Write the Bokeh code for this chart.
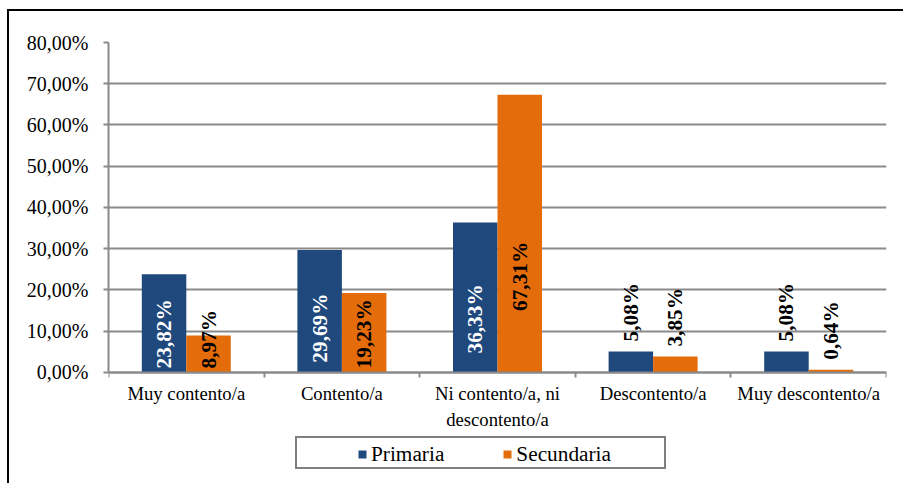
import numpy as np
from bokeh.plotting import figure
from bokeh.models import (ColumnDataSource, Range1d, FixedTicker, Legend, LegendItem)
from bokeh.core.properties import value
from bokeh.embed import file_html
from bokeh.resources import INLINE

# ---- data ----
categories = ["Muy contento/a", "Contento/a", "Ni contento/a, ni\ndescontento/a",
              "Descontento/a", "Muy descontento/a"]
primaria = [23.82, 29.69, 36.33, 5.08, 5.08]
secundaria = [8.97, 19.23, 67.31, 3.85, 0.64]
series_names = ["Primaria", "Secundaria"]
y_ticks = [0, 10, 20, 30, 40, 50, 60, 70, 80]
y_tick_labels = ["0,00%", "10,00%", "20,00%", "30,00%", "40,00%",
                 "50,00%", "60,00%", "70,00%", "80,00%"]

# ---- style ----
BLUE = "#1F497D"
ORANGE = "#E46C0A"
GRID = "#8A8A8A"
FONT = "Liberation Serif"
BAR_W = 0.286
Y_LOW = -25  # room below the axis (inside the frame) for labels and legend

p = figure(width=896, height=474, output_backend="svg", toolbar_location=None,
           x_range=Range1d(0, len(categories)), y_range=Range1d(Y_LOW, 80),
           styles={"margin-left": "7px", "margin-top": "9px",
                   "border-top": "2px solid black", "border-left": "2px solid black"})
p.min_border_left = 99
p.min_border_right = 19
p.min_border_top = 31
p.min_border_bottom = 10
p.outline_line_color = None
p.background_fill_color = "white"
p.border_fill_color = "white"

centers = np.arange(len(categories)) + 0.5
fmt = lambda v: ("%.2f" % v).replace(".", ",") + "%"

src_p = ColumnDataSource(dict(x=centers - BAR_W / 2, top=primaria))
src_s = ColumnDataSource(dict(x=centers + BAR_W / 2, top=secundaria))
r_p = p.vbar(x="x", top="top", width=BAR_W, source=src_p, fill_color=BLUE, line_color=None)
r_s = p.vbar(x="x", top="top", width=BAR_W, source=src_s, fill_color=ORANGE, line_color=None)

# ---- data labels ----
ins_x, ins_y, ins_t, ins_c = [], [], [], []
out_x, out_y, out_t = [], [], []
for xs, vals, inside_col in ((centers - BAR_W / 2, primaria, "white"),
                             (centers + BAR_W / 2, secundaria, "black")):
    for xv, v in zip(xs, vals):
        if v >= 8:
            ins_x.append(xv); ins_y.append(max(v / 3 - 8.5, 0)); ins_t.append(fmt(v)); ins_c.append(inside_col)
        else:
            out_x.append(xv); out_y.append(v); out_t.append(fmt(v))

p.text(x=ins_x, y=ins_y, text=ins_t, text_color=ins_c, angle=np.pi / 2,
       text_align="left", text_baseline="middle", y_offset=-4,
       text_font=value(FONT), text_font_style="bold", text_font_size="21.3px")
p.text(x=out_x, y=out_y, text=out_t, text_color="black", angle=np.pi / 2,
       text_align="left", text_baseline="middle", y_offset=-10,
       text_font=value(FONT), text_font_style="bold", text_font_size="21.3px")

# ---- axes ----
p.ygrid.ticker = FixedTicker(ticks=y_ticks)
p.ygrid.grid_line_color = GRID
p.ygrid.grid_line_width = 2
p.xgrid.grid_line_color = None

ya = p.yaxis[0]
ya.ticker = FixedTicker(ticks=y_ticks)
ya.bounds = (0, 80)
ya.major_label_overrides = {t: l for t, l in zip(y_ticks, y_tick_labels)}
ya.axis_line_color = GRID
ya.axis_line_width = 2
ya.major_tick_line_color = GRID
ya.major_tick_line_width = 2
ya.major_tick_out = 5
ya.major_tick_in = 0
ya.minor_tick_line_color = None
ya.major_label_standoff = 15
ya.major_label_text_font = FONT
ya.major_label_text_font_size = "20px"
ya.major_label_text_color = "black"

xa = p.xaxis[0]
xa.fixed_location = 0
xa.ticker = FixedTicker(ticks=list(centers), minor_ticks=list(range(len(categories) + 1)))
xa.major_label_overrides = {float(c): lab for c, lab in zip(centers, categories)}
xa.axis_line_color = GRID
xa.axis_line_width = 2
xa.major_tick_line_color = None
xa.major_tick_out = 0
xa.major_tick_in = 0
xa.minor_tick_line_color = GRID
xa.minor_tick_line_width = 2
xa.minor_tick_out = 5
xa.minor_tick_in = 0
xa.major_label_standoff = 6
xa.major_label_text_font = FONT
xa.major_label_text_font_size = "18.7px"
xa.major_label_text_color = "black"

# ---- legend: outer box + items ----
dummy = p.vbar(x=[], top=[], width=0, fill_alpha=0, line_alpha=0)
box = Legend(items=[LegendItem(label="\u00a0", renderers=[dummy])],
             location=(187, 6), padding=0, margin=0, spacing=0,
             glyph_width=1, glyph_height=29, label_standoff=0, label_width=366,
             label_height=29, label_text_font_size="2px",
             border_line_color="black", border_line_width=2,
             background_fill_color="white", background_fill_alpha=1)
p.add_layout(box, "center")

items = Legend(items=[LegendItem(label=series_names[0], renderers=[r_p]),
                      LegendItem(label=series_names[1], renderers=[r_s])],
               location=(249, 7), orientation="horizontal", padding=0, margin=0,
               spacing=58, glyph_width=10, glyph_height=10, label_standoff=4,
               label_height=28, label_text_font=FONT, label_text_font_size="21.3px",
               label_text_color="black", border_line_color=None,
               background_fill_alpha=0)
p.add_layout(items, "center")

open("out.html", "w").write(file_html(p, INLINE))
